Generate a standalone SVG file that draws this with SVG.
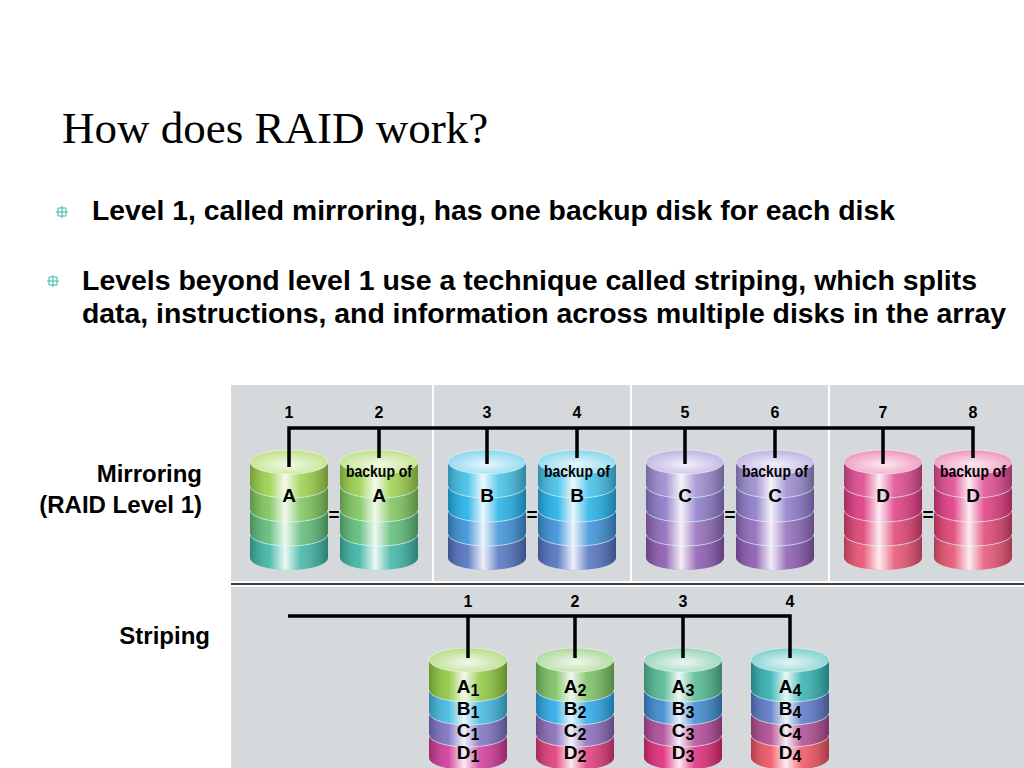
<svg xmlns="http://www.w3.org/2000/svg" xmlns:xlink="http://www.w3.org/1999/xlink" width="1024" height="768" viewBox="0 0 1024 768">
<style>
.t{font-family:"Liberation Sans",Arial,sans-serif;font-weight:bold;fill:#000}
.b{font-size:28px}
.lbl{font-size:24px}
.n{font-family:"Liberation Sans",Arial,sans-serif;font-weight:bold;font-size:16px;text-anchor:middle}
.d{font-family:"Liberation Sans",Arial,sans-serif;font-weight:bold;font-size:19px;text-anchor:middle}
.bk{font-family:"Liberation Sans",Arial,sans-serif;font-weight:bold;font-size:16px;text-anchor:middle}
.bus{fill:none;stroke:#000;stroke-width:3.5}
.sep{stroke:#fff;stroke-width:2}
.bl{stroke:#dff;stroke-width:1;fill:none;opacity:.6}
</style>
<defs>
<linearGradient id="shine" x1="0" y1="0" x2="1" y2="0">
<stop offset="0" stop-color="#000" stop-opacity=".25"/>
<stop offset=".25" stop-color="#fff" stop-opacity=".1"/>
<stop offset=".45" stop-color="#fff" stop-opacity=".9"/>
<stop offset=".65" stop-color="#fff" stop-opacity=".15"/>
<stop offset="1" stop-color="#000" stop-opacity=".3"/>
</linearGradient>
<radialGradient id="topg" cx=".5" cy=".6" r=".6">
<stop offset="0" stop-color="#fff" stop-opacity=".85"/>
<stop offset="1" stop-color="#fff" stop-opacity=".25"/>
</radialGradient>
<path id="m1" d="M-39,0 L39,0 L39,24 A39,12 0 0 1 -39,24 Z"/>
<path id="m2" d="M-39,24 A39,12 0 0 0 39,24 L39,48 A39,12 0 0 1 -39,48 Z"/>
<path id="m3" d="M-39,48 A39,12 0 0 0 39,48 L39,72 A39,12 0 0 1 -39,72 Z"/>
<path id="m4" d="M-39,72 A39,12 0 0 0 39,72 L39,96 A39,12 0 0 1 -39,96 Z"/>
<path id="mb" d="M-39,0 L39,0 L39,96 A39,12 0 0 1 -39,96 Z" fill="url(#shine)"/>
<path id="ml" d="M-39,24 A39,12 0 0 0 39,24 M-39,48 A39,12 0 0 0 39,48 M-39,72 A39,12 0 0 0 39,72" class="bl"/>
<path id="s1" d="M-39,0 L39,0 L39,30 A39,12 0 0 1 -39,30 Z"/>
<path id="s2" d="M-39,30 A39,12 0 0 0 39,30 L39,53 A39,12 0 0 1 -39,53 Z"/>
<path id="s3" d="M-39,53 A39,12 0 0 0 39,53 L39,75 A39,12 0 0 1 -39,75 Z"/>
<path id="s4" d="M-39,75 A39,12 0 0 0 39,75 L39,98 A39,12 0 0 1 -39,98 Z"/>
<path id="sb" d="M-39,0 L39,0 L39,98 A39,12 0 0 1 -39,98 Z" fill="url(#shine)"/>
<path id="sl" d="M-39,30 A39,12 0 0 0 39,30 M-39,53 A39,12 0 0 0 39,53 M-39,75 A39,12 0 0 0 39,75" class="bl"/>
<ellipse id="tp" cx="0" cy="0" rx="39" ry="12"/>
<ellipse id="tg" cx="0" cy="0" rx="39" ry="12" fill="url(#topg)" stroke="#fff" stroke-opacity=".5"/>
<g id="bul"><path d="M-6,0 H6 M0,-6 V6 M-4,-4 H4 V4 H-4 Z" stroke="#3cb8a8" stroke-width="1" fill="none"/></g>
</defs>
<rect width="1024" height="768" fill="#fff"/>
<text x="62" y="143" font-family="Liberation Serif,Times New Roman,serif" font-size="45">How does RAID work?</text>
<use href="#bul" x="62" y="212"/>
<text class="t b" x="92" y="220" textLength="803" lengthAdjust="spacingAndGlyphs">Level 1, called mirroring, has one backup disk for each disk</text>
<use href="#bul" x="53" y="281"/>
<text class="t b" x="82" y="290" textLength="895" lengthAdjust="spacingAndGlyphs">Levels beyond level 1 use a technique called striping, which splits</text>
<text class="t b" x="82" y="323" textLength="924" lengthAdjust="spacingAndGlyphs">data, instructions, and information across multiple disks in the array</text>
<text class="t lbl" x="202" y="482" text-anchor="end">Mirroring</text>
<text class="t lbl" x="202" y="513" text-anchor="end">(RAID Level 1)</text>
<text class="t lbl" x="210" y="644" text-anchor="end">Striping</text>
<g id="panels">
<rect x="231" y="385" width="793" height="196" fill="#d6d9dc"/>
<line class="sep" x1="433" y1="385" x2="433" y2="581"/>
<line class="sep" x1="631" y1="385" x2="631" y2="581"/>
<line class="sep" x1="829" y1="385" x2="829" y2="581"/>
<line x1="231" y1="584" x2="1024" y2="584" stroke="#000" stroke-width="1.5"/>
<rect x="231" y="587" width="793" height="181" fill="#d6d9dc"/>
</g>
<g id="mirror-disks">
<g id="d1" transform="translate(289,462)"><use href="#m1" fill="#9bd04a"/><use href="#m2" fill="#7cc45a"/><use href="#m3" fill="#5cbc78"/><use href="#m4" fill="#3cb4a4"/><use href="#mb"/><use href="#ml"/><use href="#tp" fill="#a8d860"/><use href="#tg"/><text class="d" y="40">A</text></g>
<g id="d2" transform="translate(379,462)"><use href="#m1" fill="#9bd04a"/><use href="#m2" fill="#7cc45a"/><use href="#m3" fill="#5cbc78"/><use href="#m4" fill="#3cb4a4"/><use href="#mb"/><use href="#ml"/><use href="#tp" fill="#a8d860"/><use href="#tg"/><text class="bk" y="15" textLength="66" lengthAdjust="spacingAndGlyphs">backup of</text><text class="d" y="40">A</text></g>
<g id="d3" transform="translate(487,462)"><use href="#m1" fill="#40c0e8"/><use href="#m2" fill="#20b0e8"/><use href="#m3" fill="#3a90d8"/><use href="#m4" fill="#5070c0"/><use href="#mb"/><use href="#ml"/><use href="#tp" fill="#60c8e8"/><use href="#tg"/><text class="d" y="40">B</text></g>
<g id="d4" transform="translate(577,462)"><use href="#m1" fill="#40c0e8"/><use href="#m2" fill="#20b0e8"/><use href="#m3" fill="#3a90d8"/><use href="#m4" fill="#5070c0"/><use href="#mb"/><use href="#ml"/><use href="#tp" fill="#60c8e8"/><use href="#tg"/><text class="bk" y="15" textLength="66" lengthAdjust="spacingAndGlyphs">backup of</text><text class="d" y="40">B</text></g>
<g id="d5" transform="translate(685,462)"><use href="#m1" fill="#9a8ad0"/><use href="#m2" fill="#8a78c8"/><use href="#m3" fill="#9068b8"/><use href="#m4" fill="#8a58b0"/><use href="#mb"/><use href="#ml"/><use href="#tp" fill="#a898d8"/><use href="#tg"/><text class="d" y="40">C</text></g>
<g id="d6" transform="translate(775,462)"><use href="#m1" fill="#9a8ad0"/><use href="#m2" fill="#8a78c8"/><use href="#m3" fill="#9068b8"/><use href="#m4" fill="#8a58b0"/><use href="#mb"/><use href="#ml"/><use href="#tp" fill="#a898d8"/><use href="#tg"/><text class="bk" y="15" textLength="66" lengthAdjust="spacingAndGlyphs">backup of</text><text class="d" y="40">C</text></g>
<g id="d7" transform="translate(883,462)"><use href="#m1" fill="#e04890"/><use href="#m2" fill="#e03880"/><use href="#m3" fill="#e04070"/><use href="#m4" fill="#e85070"/><use href="#mb"/><use href="#ml"/><use href="#tp" fill="#e870a8"/><use href="#tg"/><text class="d" y="40">D</text></g>
<g id="d8" transform="translate(973,462)"><use href="#m1" fill="#e04890"/><use href="#m2" fill="#e03880"/><use href="#m3" fill="#e04070"/><use href="#m4" fill="#e85070"/><use href="#mb"/><use href="#ml"/><use href="#tp" fill="#e870a8"/><use href="#tg"/><text class="bk" y="15" textLength="66" lengthAdjust="spacingAndGlyphs">backup of</text><text class="d" y="40">D</text></g>
<g class="d" font-size="20"><text x="334" y="521">=</text><text x="532" y="521">=</text><text x="730" y="521">=</text><text x="928" y="521">=</text></g>
</g>
<g id="stripe-disks">
<g id="s-1" transform="translate(468,660)"><use href="#s1" fill="#8cc83c"/><use href="#s2" fill="#40b8e0"/><use href="#s3" fill="#7a70c0"/><use href="#s4" fill="#d03898"/><use href="#sb"/><use href="#sl"/><use href="#tp" fill="#a0d060"/><use href="#tg"/><text class="d" y="33">A<tspan font-size="16" dy="3">1</tspan></text><text class="d" y="55">B<tspan font-size="16" dy="3">1</tspan></text><text class="d" y="77">C<tspan font-size="16" dy="3">1</tspan></text><text class="d" y="99">D<tspan font-size="16" dy="3">1</tspan></text></g>
<g id="s-2" transform="translate(575,660)"><use href="#s1" fill="#78c060"/><use href="#s2" fill="#28a8e8"/><use href="#s3" fill="#8868b8"/><use href="#s4" fill="#e03878"/><use href="#sb"/><use href="#sl"/><use href="#tp" fill="#90cc78"/><use href="#tg"/><text class="d" y="33">A<tspan font-size="16" dy="3">2</tspan></text><text class="d" y="55">B<tspan font-size="16" dy="3">2</tspan></text><text class="d" y="77">C<tspan font-size="16" dy="3">2</tspan></text><text class="d" y="99">D<tspan font-size="16" dy="3">2</tspan></text></g>
<g id="s-3" transform="translate(683,660)"><use href="#s1" fill="#50b890"/><use href="#s2" fill="#3a88d0"/><use href="#s3" fill="#b04898"/><use href="#s4" fill="#e02878"/><use href="#sb"/><use href="#sl"/><use href="#tp" fill="#70c4a0"/><use href="#tg"/><text class="d" y="33">A<tspan font-size="16" dy="3">3</tspan></text><text class="d" y="55">B<tspan font-size="16" dy="3">3</tspan></text><text class="d" y="77">C<tspan font-size="16" dy="3">3</tspan></text><text class="d" y="99">D<tspan font-size="16" dy="3">3</tspan></text></g>
<g id="s-4" transform="translate(790,660)"><use href="#s1" fill="#30b0b0"/><use href="#s2" fill="#5878c8"/><use href="#s3" fill="#b04890"/><use href="#s4" fill="#f05060"/><use href="#sb"/><use href="#sl"/><use href="#tp" fill="#50c0c0"/><use href="#tg"/><text class="d" y="33">A<tspan font-size="16" dy="3">4</tspan></text><text class="d" y="55">B<tspan font-size="16" dy="3">4</tspan></text><text class="d" y="77">C<tspan font-size="16" dy="3">4</tspan></text><text class="d" y="99">D<tspan font-size="16" dy="3">4</tspan></text></g>
</g>
<g id="connectors">
<path class="bus" d="M289,467 V428 H973 V458 M379,428 V458 M487,428 V464 M577,428 V458 M685,428 V464 M775,428 V458 M883,428 V464"/>
<path class="bus" d="M288,616 H790 V658 M468,616 V658 M575,616 V658 M683,616 V658"/>
</g>
<g id="numbers">
<text class="n" x="289" y="418">1</text><text class="n" x="379" y="418">2</text><text class="n" x="487" y="418">3</text><text class="n" x="577" y="418">4</text><text class="n" x="685" y="418">5</text><text class="n" x="775" y="418">6</text><text class="n" x="883" y="418">7</text><text class="n" x="973" y="418">8</text>
<text class="n" x="468" y="607">1</text><text class="n" x="575" y="607">2</text><text class="n" x="683" y="607">3</text><text class="n" x="790" y="607">4</text>
</g>
</svg>
